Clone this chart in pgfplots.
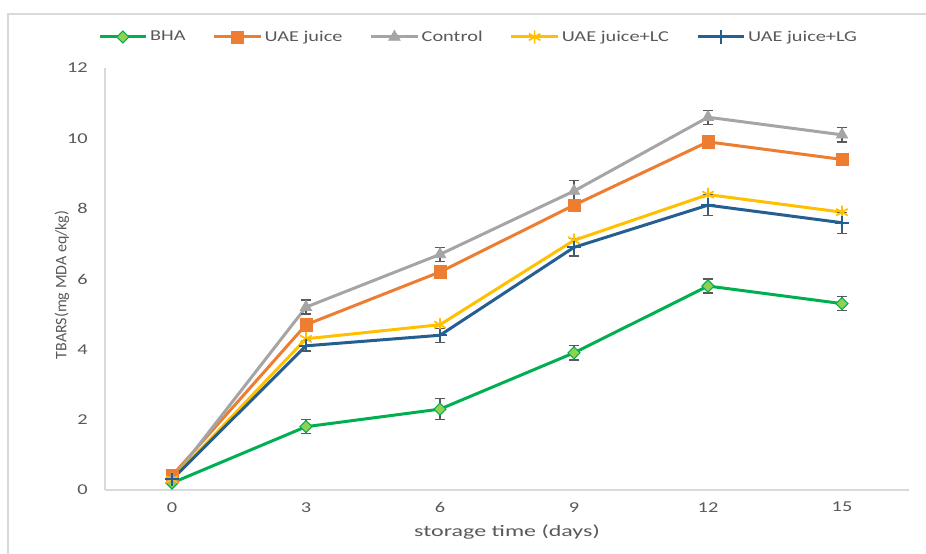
\documentclass[border=0pt]{standalone}
\usepackage{fontspec}
\setmainfont{Carlito}[FakeStretch=1.35]
\newfontfamily\ylabfont{Carlito}
\newfontfamily\xlabfont{Carlito}[FakeStretch=1.5]
\usepackage{pgfplots}
\usepackage{pgfplotstable}
\pgfplotsset{compat=1.18}

\definecolor{txtgray}{HTML}{595959}
\definecolor{axgray}{HTML}{D9D9D9}
\definecolor{errgray}{HTML}{595959}
\definecolor{cBHA}{HTML}{00B050}
\definecolor{cBHAfill}{HTML}{92D050}
\definecolor{cUAE}{HTML}{ED7D31}
\definecolor{cCtrl}{HTML}{A5A5A5}
\definecolor{cLC}{HTML}{FFC000}
\definecolor{cLG}{HTML}{255E91}

\pgfplotstableread{
x   y    e
0   0.2  0
3   1.8  0.2
6   2.3  0.3
9   3.9  0.2
12  5.8  0.2
15  5.3  0.2
}\tblBHA
\pgfplotstableread{
x   y
0   0.4
3   4.7
6   6.2
9   8.1
12  9.9
15  9.4
}\tblUAE
\pgfplotstableread{
x   y     e
0   0.3   0
3   5.2   0.2
6   6.7   0.2
9   8.5   0.3
12  10.6  0.2
15  10.1  0.2
}\tblCtrl
\pgfplotstableread{
x   y
0   0.3
3   4.3
6   4.7
9   7.1
12  8.4
15  7.9
}\tblLC
\pgfplotstableread{
x   y    e
0   0.3  0
3   4.1  0.15
6   4.4  0.2
9   6.9  0.25
12  8.1  0.3
15  7.6  0.3
}\tblLG

\begin{document}
\begin{tikzpicture}
\begin{scope}[x=0.75pt,y=0.75pt]
\path[use as bounding box] (-105,-64) rectangle (821,490);
\draw[axgray, line width=1pt] (-97,-64) -- (-97,476) -- (821,476);
\end{scope}
\begin{axis}[
  at={(0pt,0pt)}, anchor=south west,
  scale only axis,
  width=603pt, height=316.5pt,
  xmin=-1.5, xmax=16.5,
  ymin=0, ymax=12,
  xtick={0,3,6,9,12,15},
  ytick={0,2,4,6,8,10,12},
  axis x line*=bottom, axis y line*=left,
  axis line style={axgray, line width=0.8pt, -},
  major tick length=0pt,
  /pgf/number format/assume math mode=true,
  tick label style={font=\fontsize{11.3}{13}\selectfont, text=txtgray, inner sep=0pt},
  yticklabel style={anchor=east, xshift=-12.75pt},
  xticklabel style={anchor=north, yshift=-9pt},
  xlabel={storage time (days)},
  xlabel style={font=\xlabfont\fontsize{12}{14}\selectfont, text=txtgray,
    at={(axis description cs:0.5,0)}, anchor=base, yshift=-34.5pt},
  ylabel={TBARS(mg MDA eq/kg)},
  ylabel style={font=\ylabfont\fontsize{12}{14}\selectfont, text=txtgray,
    at={(axis description cs:-0.048,0.486)}, anchor=base},
  legend columns=5,
  legend style={draw=none, fill=none, inner sep=0pt, outer sep=0pt,
    at={(axis description cs:-0.0087,1.0735)}, anchor=west,
    font=\fontsize{11.3}{13}\selectfont, text=txtgray,
    nodes={inner sep=1.8pt},
    /tikz/every even column/.append style={column sep=18.5pt}},
  legend image code/.code={\draw[mark repeat=2,mark phase=2] plot coordinates {(0pt,0pt) (17.5pt,0pt) (35pt,0pt)};},
  every axis plot/.append style={line width=2.25pt},
  error bars/y dir=both, error bars/y explicit,
  error bars/error bar style={line width=1pt, draw=errgray},
  error bars/error mark options={line width=1pt, draw=errgray, mark size=4pt, rotate=90},
]
\addplot[cBHA, mark=square*, mark size=3.2pt, mark options={rotate=45, fill=cBHAfill, draw=cBHA, line width=0.8pt}]
  table[x=x, y=y, y error=e] {\tblBHA};
\addlegendentry{BHA}
\addplot[cUAE, mark=square*, mark size=4.6pt, mark options={fill=cUAE, draw=cUAE, line width=0.5pt}, error bars/y dir=none]
  table[x=x, y=y] {\tblUAE};
\addlegendentry{UAE juice}
\addplot[cCtrl, mark=triangle*, mark size=5pt, mark options={fill=cCtrl, draw=cCtrl, line width=0.5pt}]
  table[x=x, y=y, y error=e] {\tblCtrl};
\addlegendentry{Control}
\addplot[cLC, mark=asterisk, mark size=5pt, mark options={draw=cLC, line width=1.3pt}, error bars/y dir=none]
  table[x=x, y=y] {\tblLC};
\addlegendentry{UAE juice+LC}
\addplot[cLG, mark=+, mark size=5pt, mark options={draw=cLG, line width=1.5pt}]
  table[x=x, y=y, y error=e] {\tblLG};
\addlegendentry{UAE juice+LG}
\end{axis}
\end{tikzpicture}
\end{document}
